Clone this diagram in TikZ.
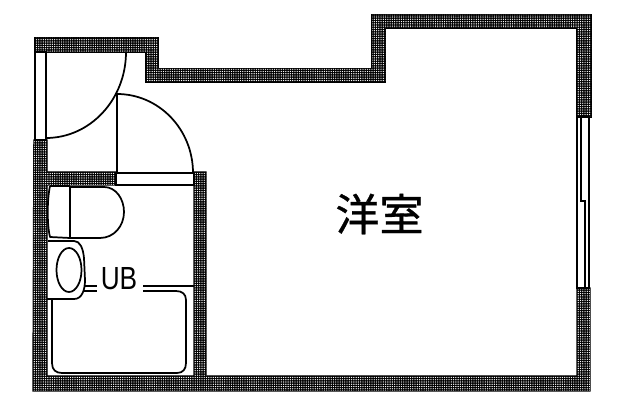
\documentclass[tikz,border=0pt]{standalone}
\usepackage{fontspec}
\setmainfont{Liberation Sans}
\newfontfamily\cjk[FakeBold=0.8]{Noto Sans CJK JP}
\usetikzlibrary{patterns.meta}
\tikzset{
  wallbase/.style={fill=black,draw=black,line width=1.1pt,line join=miter},
  walldots/.style={pattern={Dots[distance=1.7pt,radius=0.5pt,xshift=0.2pt]},pattern color=white},
  fixture/.style={draw=black,line width=1.3pt,fill=none,line join=round},
  thin line/.style={draw=black,line width=1.1pt},
  glassfill/.style={draw=black,line width=1.2pt,fill=white}
}
\newcommand{\wall}[1]{\path[wallbase] #1; \path[walldots] #1;}
\begin{document}
\begin{tikzpicture}[x=0.75pt,y=-0.75pt]
\useasboundingbox (0,0) rectangle (625,416);
\fill[white] (0,0) rectangle (625,416);
% walls
\wall{(35,38) -- (158,38) -- (158,69) -- (372,69) -- (372,15) -- (591,15) -- (591,117) -- (577,117) -- (577,28) -- (385,28) -- (385,82) -- (146,82) -- (146,52) -- (35,52) -- cycle}
\wall{(34,140) -- (47,140) -- (47,172) -- (116,172) -- (116,185) -- (47,185) -- (47,376) -- (194,376) -- (194,172) -- (206,172) -- (206,376) -- (577,376) -- (577,288) -- (590,288) -- (590,391) -- (33,391) -- cycle}
% left window
\path[glassfill] (35,52) rectangle (46,140);
% door sill
\path[glassfill] (116,173) rectangle (194,185);
% right window
\path[glassfill] (577,117) rectangle (589,288);
\draw[thin line] (581,117) -- (581,201) -- (585,201) -- (585,288);
% doors
\draw[fixture] (126,52) arc[start angle=0,end angle=90,x radius=80,y radius=86];
\draw[fixture] (117,94) -- (117,173);
\draw[fixture] (117,94) arc[start angle=90,end angle=0,x radius=76,y radius=-79];
% toilet
\draw[fixture] (50,186) .. controls (47,200) and (47,225) .. (50,237) -- (70,238);
\draw[fixture] (50,186) -- (70,186);
\draw[fixture,line width=1.7pt] (70,186) -- (70,238);
\draw[fixture] (70,187) -- (104,187) .. controls (116,187) and (124,199) .. (124,212) .. controls (124,226) and (114,238) .. (100,238) -- (70,238);
% sink
\draw[fixture] (48,241) -- (74,241) .. controls (80,241) and (83,248) .. (84,258) -- (85,280) .. controls (85,290) and (82,299) .. (74,299) -- (47,299);
\draw[fixture] (69,270) ellipse[x radius=12.5,y radius=22];
% partition
\draw[thin line] (84,286) -- (97,286);
\draw[thin line] (84,291) -- (97,291);
\draw[thin line] (143,286) -- (194,286);
\draw[thin line] (143,291) -- (176,291);
% bath tub
\draw[fixture] (52,299) -- (52,363) .. controls (52,370) and (56,373) .. (62,373) -- (177,373) .. controls (183,373) and (186,369) .. (186,363) -- (186,300) .. controls (186,294) and (182,291) .. (176,291);
% labels
\node[inner sep=0pt,anchor=center,xscale=0.82,transform shape,font=\fontsize{24}{24}\selectfont] (ub) at (119,279) {UB};
\node[inner sep=0pt,anchor=center,font=\cjk\fontsize{33}{33}\selectfont] (room) at (379.5,214) {洋室};
\end{tikzpicture}
\end{document}
